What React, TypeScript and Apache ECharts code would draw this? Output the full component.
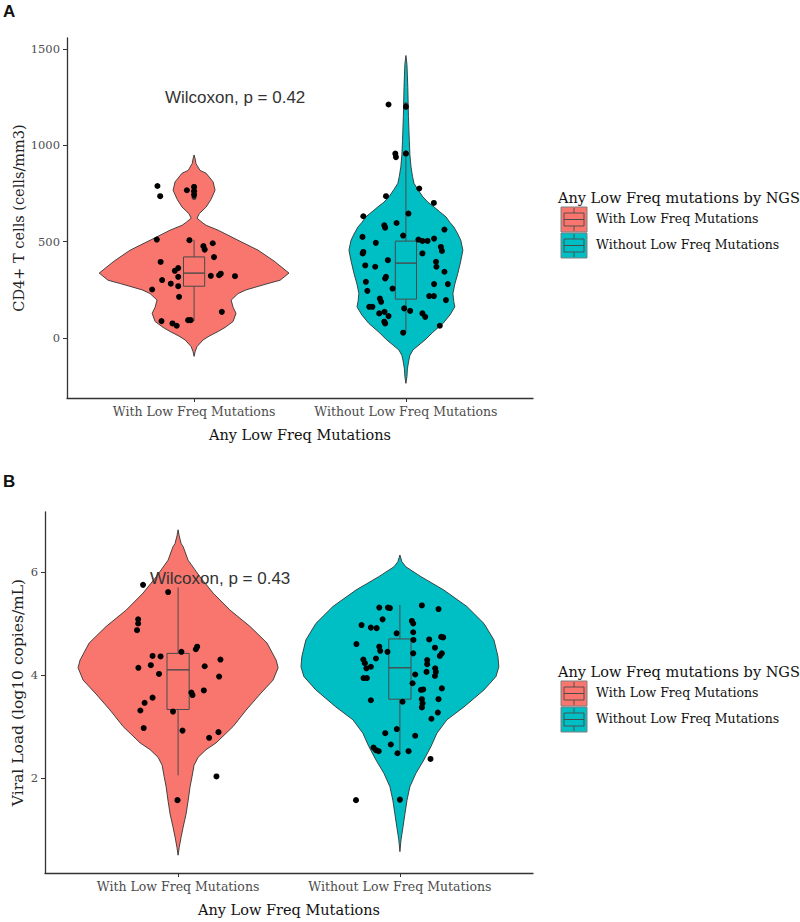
import React, { useEffect, useRef } from "react";
import * as echarts from "echarts";

const categories = ["With Low Freq Mutations", "Without Low Freq Mutations"];
const legendTitle = "Any Low Freq mutations by NGS";
const xTitle = "Any Low Freq Mutations";
const yTitleA = "CD4+ T cells (cells/mm3)";
const yTitleB = "Viral Load (log10 copies/mL)";
const pValueA = "Wilcoxon, p = 0.42";
const pValueB = "Wilcoxon, p = 0.43";
const ticksA = [0, 500, 1000, 1500];
const ticksB = [2, 4, 6];
const colors = ["#F8766D", "#00BFC4"];

// Violin outlines (value, half width in category units)
const violinAWithY = [950, 930, 905, 870, 855, 810, 767, 720, 680, 645, 622, 600, 585, 560, 510, 456, 400, 337, 300, 283, 250, 231, 197, 160, 128, 86, 55, 34, 10, -10, -44, -70, -95];
const violinAWithW = [0, 0.005, 0.009, 0.028, 0.057, 0.09, 0.099, 0.08, 0.057, 0.024, 0.014, 0.038, 0.057, 0.113, 0.203, 0.302, 0.377, 0.448, 0.406, 0.349, 0.245, 0.208, 0.175, 0.184, 0.198, 0.184, 0.146, 0.113, 0.071, 0.042, 0.014, 0.005, 0];
const violinAWithoutY = [1466, 1420, 1300, 1150, 1026, 950, 889, 840, 803, 770, 733, 705, 681, 655, 629, 600, 577, 540, 508, 456, 400, 335, 280, 231, 190, 162, 120, 76, 30, -10, -40, -62, -90, -114, -160, -200, -235];
const violinAWithoutW = [0, 0.005, 0.009, 0.012, 0.016, 0.019, 0.024, 0.031, 0.038, 0.057, 0.08, 0.104, 0.132, 0.16, 0.189, 0.208, 0.226, 0.245, 0.259, 0.269, 0.259, 0.245, 0.231, 0.222, 0.226, 0.231, 0.208, 0.175, 0.127, 0.09, 0.057, 0.033, 0.019, 0.014, 0.007, 0.005, 0];
const violinBWithY = [6.82, 6.7, 6.55, 6.49, 6.23, 5.91, 5.59, 5.26, 4.94, 4.62, 4.29, 4.14, 3.9, 3.65, 3.32, 3.0, 2.68, 2.55, 2.4, 2.25, 2.03, 1.83, 1.55, 1.3, 1.05, 0.86, 0.65, 0.5];
const violinBWithW = [0, 0.005, 0.014, 0.023, 0.045, 0.098, 0.158, 0.234, 0.325, 0.401, 0.442, 0.451, 0.428, 0.374, 0.307, 0.248, 0.171, 0.126, 0.09, 0.072, 0.063, 0.054, 0.045, 0.036, 0.023, 0.014, 0.005, 0];
const violinBWithoutY = [6.33, 6.2, 6.1, 5.91, 5.65, 5.33, 5.0, 4.68, 4.36, 4.16, 3.97, 3.71, 3.38, 3.13, 2.87, 2.61, 2.35, 2.09, 1.83, 1.57, 1.31, 1.05, 0.8, 0.57];
const violinBWithoutW = [0, 0.009, 0.027, 0.095, 0.198, 0.302, 0.379, 0.424, 0.442, 0.446, 0.433, 0.379, 0.289, 0.212, 0.167, 0.14, 0.108, 0.072, 0.045, 0.032, 0.023, 0.014, 0.005, 0];

// Boxplots: [lower whisker, Q1, median, Q3, upper whisker]
const boxAWith = [90, 269, 337, 421, 510];
const boxAWithout = [30, 202, 389, 503, 940];
const boxBWith = [2.05, 3.33, 4.1, 4.42, 5.7];
const boxBWithout = [2.48, 3.53, 4.14, 4.7, 5.36];
const outliersAWith = [785, 765, 745, 730];
const outliersAWithout = [960, 1210];
const outliersBWith = [1.57];
const outliersBWithout = [1.57];

// Jittered points: horizontal offset from category centre, value
const pointsAWithDx = [-0.173, -0.16, -0.034, 0, 0, 0, -0.176, -0.022, 0.044, 0.05, 0.088, 0.094, -0.158, -0.075, -0.091, -0.075, -0.151, -0.11, -0.075, -0.198, -0.071, 0.079, 0.118, 0.126, 0.193, 0.131, -0.154, -0.102, -0.082, -0.028, -0.016];
const pointsAWithY = [789, 736, 767, 784, 762, 743, 511, 508, 477, 459, 492, 420, 395, 363, 349, 318, 301, 282, 269, 252, 214, 323, 326, 334, 321, 136, 88, 76, 64, 93, 93];
const pointsAWithoutDx = [-0.082, 0, -0.05, -0.047, 0, 0.063, -0.094, 0.132, -0.201, 0.012, -0.102, -0.098, -0.044, -0.013, -0.205, -0.142, 0.059, 0.078, 0.102, 0.133, 0.182, 0.165, 0.17, -0.201, 0.078, -0.085, -0.192, -0.145, 0.142, 0.144, 0.182, -0.098, -0.189, -0.063, 0.133, 0.198, -0.182, 0.11, 0.132, -0.123, -0.117, 0.189, -0.173, -0.158, -0.008, 0.02, -0.101, -0.082, 0.078, 0.091, -0.098, 0.16, -0.013, -0.094, -0.204, -0.126, -0.102];
const pointsAWithoutY = [1212, 1200, 957, 939, 957, 776, 736, 701, 632, 646, 585, 573, 597, 532, 525, 494, 511, 504, 504, 516, 563, 473, 452, 447, 439, 404, 377, 370, 396, 370, 344, 309, 292, 257, 280, 280, 245, 218, 218, 205, 188, 197, 162, 162, 154, 141, 136, 114, 128, 110, 76, 64, 28, 318, 439, 128, 85];
const pointsBWithDx = [-0.158, -0.045, -0.18, -0.18, -0.185, 0.015, 0.086, 0.08, -0.115, -0.079, 0.191, -0.179, -0.123, -0.086, 0.12, 0.185, 0.06, 0.065, 0.116, -0.115, -0.151, -0.17, -0.023, -0.155, 0.02, 0.14, 0.182, 0.173, -0.003];
const pointsBWithY = [5.75, 5.61, 5.08, 5.0, 4.87, 4.45, 4.55, 4.5, 4.37, 4.36, 4.3, 4.14, 4.19, 4.02, 4.17, 3.97, 3.66, 3.61, 3.7, 3.56, 3.46, 3.31, 3.29, 2.97, 2.92, 2.78, 2.89, 2.03, 1.57];
const pointsBWithoutDx = [-0.093, -0.054, -0.045, 0.099, 0.174, -0.078, 0.054, 0.06, -0.173, -0.131, -0.105, -0.015, 0.06, -0.196, 0.132, 0.061, 0.186, 0.195, 0.158, -0.093, -0.089, -0.056, 0.06, 0.189, 0.18, -0.108, -0.165, -0.158, -0.151, -0.131, 0.123, 0.123, 0.159, 0.162, 0.158, 0.12, -0.164, -0.149, 0.069, 0.057, 0.189, 0.095, 0.105, 0.099, 0.102, 0.099, 0.174, 0.012, -0.131, 0.171, 0.142, -0.066, -0.014, 0.069, -0.119, -0.108, -0.096, -0.041, -0.011, 0.039, 0.138, -0.198, 0];
const pointsBWithoutY = [5.31, 5.31, 5.3, 5.35, 5.28, 5.08, 5.05, 5.0, 4.97, 4.92, 4.91, 4.81, 4.83, 4.6, 4.69, 4.68, 4.74, 4.73, 4.53, 4.55, 4.47, 4.45, 4.42, 4.42, 4.37, 4.32, 4.3, 4.23, 4.13, 4.16, 4.29, 4.21, 4.13, 4.06, 3.98, 4.06, 3.94, 3.94, 4.01, 3.84, 3.74, 3.71, 3.72, 3.53, 3.45, 3.37, 3.53, 3.48, 3.51, 3.27, 3.15, 2.87, 2.95, 2.82, 2.59, 2.54, 2.52, 2.65, 2.48, 2.52, 2.37, 1.57, 1.58];

const SERIF = "DejaVu Serif";
const SANS = "Liberation Sans";
const GREY = "#4d4d4d";
const AXIS_COLOR = "#333333";

function violinSeries(idx: number, ys: number[][], ws: number[][]) {
  return {
    type: "custom",
    xAxisIndex: idx,
    yAxisIndex: idx,
    silent: true,
    z: 1,
    data: [[1, 0], [2, 0]],
    renderItem: (params: any, api: any) => {
      const i = params.dataIndex;
      const cx = i + 1;
      const y = ys[i];
      const w = ws[i];
      const right = y.map((v, k) => api.coord([cx + w[k], v]));
      const left: number[][] = [];
      for (let k = y.length - 2; k >= 1; k--) left.push(api.coord([cx - w[k], y[k]]));
      return {
        type: "polygon",
        shape: { points: right.concat(left) },
        style: { fill: colors[i], stroke: "#333333", lineWidth: 0.9 },
      };
    },
  };
}

function boxSeries(idx: number, boxes: number[][]) {
  return {
    type: "custom",
    xAxisIndex: idx,
    yAxisIndex: idx,
    silent: true,
    z: 2,
    data: [[1, boxes[0][2]], [2, boxes[1][2]]],
    renderItem: (params: any, api: any) => {
      const i = params.dataIndex;
      const cx = i + 1;
      const [lo, q1, med, q3, hi] = boxes[i];
      const hw = 0.05;
      const c = (x: number, y: number) => api.coord([x, y]);
      const tl = c(cx - hw, q3);
      const br = c(cx + hw, q1);
      const ls = { stroke: "#4a4a4a", lineWidth: 1 };
      return {
        type: "group",
        children: [
          { type: "line", shape: { x1: c(cx, q3)[0], y1: c(cx, q3)[1], x2: c(cx, hi)[0], y2: c(cx, hi)[1] }, style: ls },
          { type: "line", shape: { x1: c(cx, q1)[0], y1: c(cx, q1)[1], x2: c(cx, lo)[0], y2: c(cx, lo)[1] }, style: ls },
          { type: "rect", shape: { x: tl[0], y: tl[1], width: br[0] - tl[0], height: br[1] - tl[1] }, style: { fill: colors[i], stroke: "#4a4a4a", lineWidth: 1 } },
          { type: "line", shape: { x1: c(cx - hw, med)[0], y1: c(cx, med)[1], x2: c(cx + hw, med)[0], y2: c(cx, med)[1] }, style: { stroke: "#4a4a4a", lineWidth: 1.4 } },
        ],
      };
    },
  };
}

function scatterSeries(idx: number, pts: number[][], size: number, color: string, z: number) {
  return {
    type: "scatter",
    xAxisIndex: idx,
    yAxisIndex: idx,
    silent: true,
    z,
    symbol: "circle",
    symbolSize: size,
    itemStyle: { color, opacity: 1 },
    data: pts,
  };
}

function xAxis(idx: number) {
  return {
    gridIndex: idx,
    type: "value",
    min: 0.4,
    max: 2.6,
    splitLine: { show: false },
    axisLine: { show: true, onZero: false, lineStyle: { color: AXIS_COLOR, width: 1.3 } },
    axisTick: { show: true, customValues: [1, 2], length: 4, lineStyle: { color: AXIS_COLOR } },
    axisLabel: {
      customValues: [1, 2],
      formatter: (v: number) => categories[Math.round(v) - 1] || "",
      fontFamily: SERIF,
      fontSize: 12.5,
      color: GREY,
      margin: 7,
    },
    name: xTitle,
    nameLocation: "middle",
    nameGap: 29,
    nameMoveOverlap: false,
    nameTextStyle: { fontFamily: SERIF, fontSize: 14.5, color: "#111" },
  };
}

function yAxis(idx: number, min: number, max: number, ticks: number[], title: string, gap: number, size: number) {
  return {
    gridIndex: idx,
    type: "value",
    min,
    max,
    splitLine: { show: false },
    axisLine: { show: true, onZero: false, lineStyle: { color: AXIS_COLOR, width: 1.3 } },
    axisTick: { show: true, customValues: ticks, length: 4, lineStyle: { color: AXIS_COLOR } },
    axisLabel: {
      customValues: ticks,
      formatter: (v: number) => String(v),
      fontFamily: SERIF,
      fontSize: 11.5,
      color: GREY,
      margin: 7,
    },
    name: title,
    nameLocation: "middle",
    nameGap: gap,
    nameMoveOverlap: false,
    nameTextStyle: { fontFamily: SERIF, fontSize: size, color: "#222" },
  };
}

function legendGraphics(top: number) {
  const items: any[] = [
    { type: "text", left: 558, top: top - 17, style: { text: legendTitle, fontFamily: SERIF, fontSize: 14.5, fill: "#111" } },
  ];
  for (let i = 0; i < 2; i++) {
    const x = 561;
    const y = top + i * 26;
    const w = 26;
    const h = 25;
    items.push({ type: "rect", shape: { x, y, width: w, height: h }, style: { fill: colors[i], stroke: "#7f7f7f", lineWidth: 1 } });
    items.push({ type: "rect", shape: { x: x + 3, y: y + 6, width: w - 6, height: h - 12 }, style: { fill: colors[i], stroke: "#4a4a4a", lineWidth: 0.9 } });
    items.push({ type: "line", shape: { x1: x + 3, y1: y + h / 2, x2: x + w - 3, y2: y + h / 2 }, style: { stroke: "#4a4a4a", lineWidth: 1 } });
    items.push({ type: "line", shape: { x1: x + w / 2, y1: y + 1, x2: x + w / 2, y2: y + 6 }, style: { stroke: "#4a4a4a", lineWidth: 0.9 } });
    items.push({ type: "line", shape: { x1: x + w / 2, y1: y + h - 6, x2: x + w / 2, y2: y + h - 1 }, style: { stroke: "#4a4a4a", lineWidth: 0.9 } });
    items.push({
      type: "text",
      left: 596,
      top: y + h / 2 - 8,
      style: { text: categories[i], fontFamily: SERIF, fontSize: 12.5, fill: "#111" },
    });
  }
  return items;
}

const toPts = (dx: number[], ys: number[], c: number) => ys.map((v, k) => [c + dx[k], v]);
const toOut = (ys: number[], c: number) => ys.map((v) => [c, v]);

export default function App() {
  const ref = useRef<HTMLDivElement>(null);
  useEffect(() => {
    document.body.style.margin = "0";
    if (!ref.current) return;
    const chart = echarts.init(ref.current, undefined, { renderer: "svg" });
    chart.setOption({
      animation: false,
      backgroundColor: "#ffffff",
      grid: [
        { left: 67, top: 38, width: 466, height: 360, containLabel: false, outerBoundsMode: "none" },
        { left: 45, top: 512, width: 488, height: 361, containLabel: false, outerBoundsMode: "none" },
      ],
      xAxis: [xAxis(0), xAxis(1)],
      yAxis: [
        yAxis(0, -311, 1557, ticksA, yTitleA, 41, 14.5),
        yAxis(1, 0.155, 7.165, ticksB, yTitleB, 19, 15.5),
      ],
      series: [
        violinSeries(0, [violinAWithY, violinAWithoutY], [violinAWithW, violinAWithoutW]),
        boxSeries(0, [boxAWith, boxAWithout]),
        scatterSeries(0, toOut(outliersAWith, 1).concat(toOut(outliersAWithout, 2)), 5, "#333333", 3),
        scatterSeries(0, toPts(pointsAWithDx, pointsAWithY, 1), 6, "#000000", 4),
        scatterSeries(0, toPts(pointsAWithoutDx, pointsAWithoutY, 2), 6, "#000000", 4),
        violinSeries(1, [violinBWithY, violinBWithoutY], [violinBWithW, violinBWithoutW]),
        boxSeries(1, [boxBWith, boxBWithout]),
        scatterSeries(1, toOut(outliersBWith, 1).concat(toOut(outliersBWithout, 2)), 5, "#333333", 3),
        scatterSeries(1, toPts(pointsBWithDx, pointsBWithY, 1), 6, "#000000", 4),
        scatterSeries(1, toPts(pointsBWithoutDx, pointsBWithoutY, 2), 6, "#000000", 4),
      ],
      graphic: [
        { type: "text", left: 3, top: 3, z: 100, style: { text: "A", fontFamily: SANS, fontWeight: "bold", fontSize: 17, fill: "#111" } },
        { type: "text", left: 3, top: 473, z: 100, style: { text: "B", fontFamily: SANS, fontWeight: "bold", fontSize: 17, fill: "#111" } },
        { type: "text", left: 165, top: 89, z: 100, style: { text: pValueA, fontFamily: SANS, fontSize: 17, fill: "#333" } },
        { type: "text", left: 150, top: 570, z: 100, style: { text: pValueB, fontFamily: SANS, fontSize: 17, fill: "#333" } },
        ...legendGraphics(207),
        ...legendGraphics(681),
      ],
    });
    return () => chart.dispose();
  }, []);
  return <div ref={ref} style={{ width: 800, height: 922 }} />;
}
